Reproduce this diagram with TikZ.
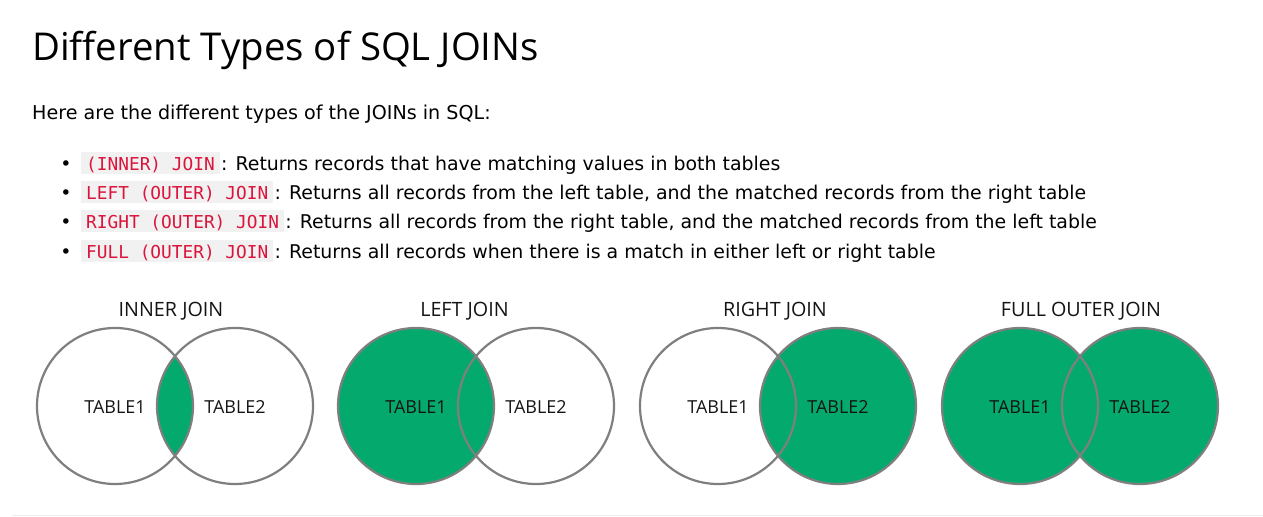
\documentclass[tikz,border=0pt]{standalone}
\usepackage{fontspec}
\setmainfont{DejaVu Sans}
\newfontfamily\segfont{Open Sans}
\newfontfamily\monofont{DejaVu Sans Mono}
\definecolor{joingreen}{HTML}{04AA6D}
\definecolor{ringgray}{HTML}{7F7F7F}
\definecolor{codered}{HTML}{DC143C}
\definecolor{codebg}{HTML}{F1F1F1}
\definecolor{rulegray}{HTML}{EEEEEE}
\begin{document}
\begin{tikzpicture}[x=1bp,y=-1bp,
  txt/.style={inner sep=0pt, anchor=base west, font=\fontsize{19}{22}\selectfont},
  codebox/.style={fill=codebg, text=codered, inner xsep=5bp, inner ysep=0pt,
    text height=18.7bp, text depth=3.3bp, anchor=base west,
    font=\monofont\fontsize{17.86}{20}\selectfont},
  bulletmark/.style={inner sep=0pt, anchor=base, font=\fontsize{19}{22}\selectfont},
  jointitle/.style={inner sep=0pt, anchor=base, font=\segfont\fontsize{19.8}{23}\selectfont, text=black!92},
  tablelabel/.style={inner sep=0pt, anchor=base, font=\segfont\fontsize{18}{21}\selectfont, text=black!92},
  ring/.style={draw=ringgray, line width=2.2bp},
  area/.style={fill=joingreen}
]
\useasboundingbox (0,0) rectangle (1263,517);

% heading and intro
\node[inner sep=0pt, anchor=base west, font=\segfont\fontsize{38.5}{44}\selectfont] (title) at (32,61) {Different Types of SQL JOINs};
\node[txt, font=\fontsize{19.2}{22}\selectfont] (intro) at (32,120) {Here are the different types of the JOINs in SQL:};

% bullet list
\node[bulletmark] (b1) at (66,170.5) {•};
\node[codebox] (c1) at (81,170.5) {(INNER) JOIN};
\node[txt] (t1) at ([xshift=1bp]c1.base east) {: Returns records that have matching values in both tables};

\node[bulletmark] (b2) at (66,199.8) {•};
\node[codebox] (c2) at (81,199.8) {LEFT (OUTER) JOIN};
\node[txt] (t2) at ([xshift=1bp]c2.base east) {: Returns all records from the left table, and the matched records from the right table};

\node[bulletmark] (b3) at (66,229) {•};
\node[codebox] (c3) at (81,229) {RIGHT (OUTER) JOIN};
\node[txt] (t3) at ([xshift=1bp]c3.base east) {: Returns all records from the right table, and the matched records from the left table};

\node[bulletmark] (b4) at (66,258.3) {•};
\node[codebox] (c4) at (81,258.3) {FULL (OUTER) JOIN};
\node[txt] (t4) at ([xshift=1bp]c4.base east) {: Returns all records when there is a match in either left or right table};

% circle centres
\def\R{78}
\coordinate (iA) at (115,406);  \coordinate (iB) at (235,406);
\coordinate (lA) at (416,406);  \coordinate (lB) at (536,406);
\coordinate (rA) at (718,406);  \coordinate (rB) at (838,406);
\coordinate (fA) at (1020,406); \coordinate (fB) at (1140,406);

% INNER JOIN
\begin{scope}
  \clip (iA) circle (\R);
  \fill[area] (iB) circle (\R);
\end{scope}
\draw[ring] (iA) circle (\R);
\draw[ring] (iB) circle (\R);

% LEFT JOIN
\fill[area] (lA) circle (\R);
\draw[ring] (lA) circle (\R);
\draw[ring] (lB) circle (\R);

% RIGHT JOIN
\fill[area] (rB) circle (\R);
\draw[ring] (rA) circle (\R);
\draw[ring] (rB) circle (\R);

% FULL OUTER JOIN
\fill[area] (fA) circle (\R);
\fill[area] (fB) circle (\R);
\draw[ring] (fA) circle (\R);
\draw[ring] (fB) circle (\R);

% titles
\node[jointitle] (h1) at (171,317) {INNER JOIN};
\node[jointitle] (h2) at (464.5,317) {LEFT JOIN};
\node[jointitle] (h3) at (775,317) {RIGHT JOIN};
\node[jointitle] (h4) at (1081,317) {FULL OUTER JOIN};

% table labels
\node[tablelabel] (i1) at (iA |- 0,413) {TABLE1};
\node[tablelabel] (i2) at (iB |- 0,413) {TABLE2};
\node[tablelabel] (l1) at (lA |- 0,413) {TABLE1};
\node[tablelabel] (l2) at (lB |- 0,413) {TABLE2};
\node[tablelabel] (r1) at (rA |- 0,413) {TABLE1};
\node[tablelabel] (r2) at (rB |- 0,413) {TABLE2};
\node[tablelabel] (f1) at (fA |- 0,413) {TABLE1};
\node[tablelabel] (f2) at (fB |- 0,413) {TABLE2};

% bottom rule
\coordinate (ruleL) at (12,515.5);
\coordinate (ruleR) at (1263,515.5);
\draw[rulegray, line width=1bp] (ruleL) -- (ruleR);
\end{tikzpicture}
\end{document}
